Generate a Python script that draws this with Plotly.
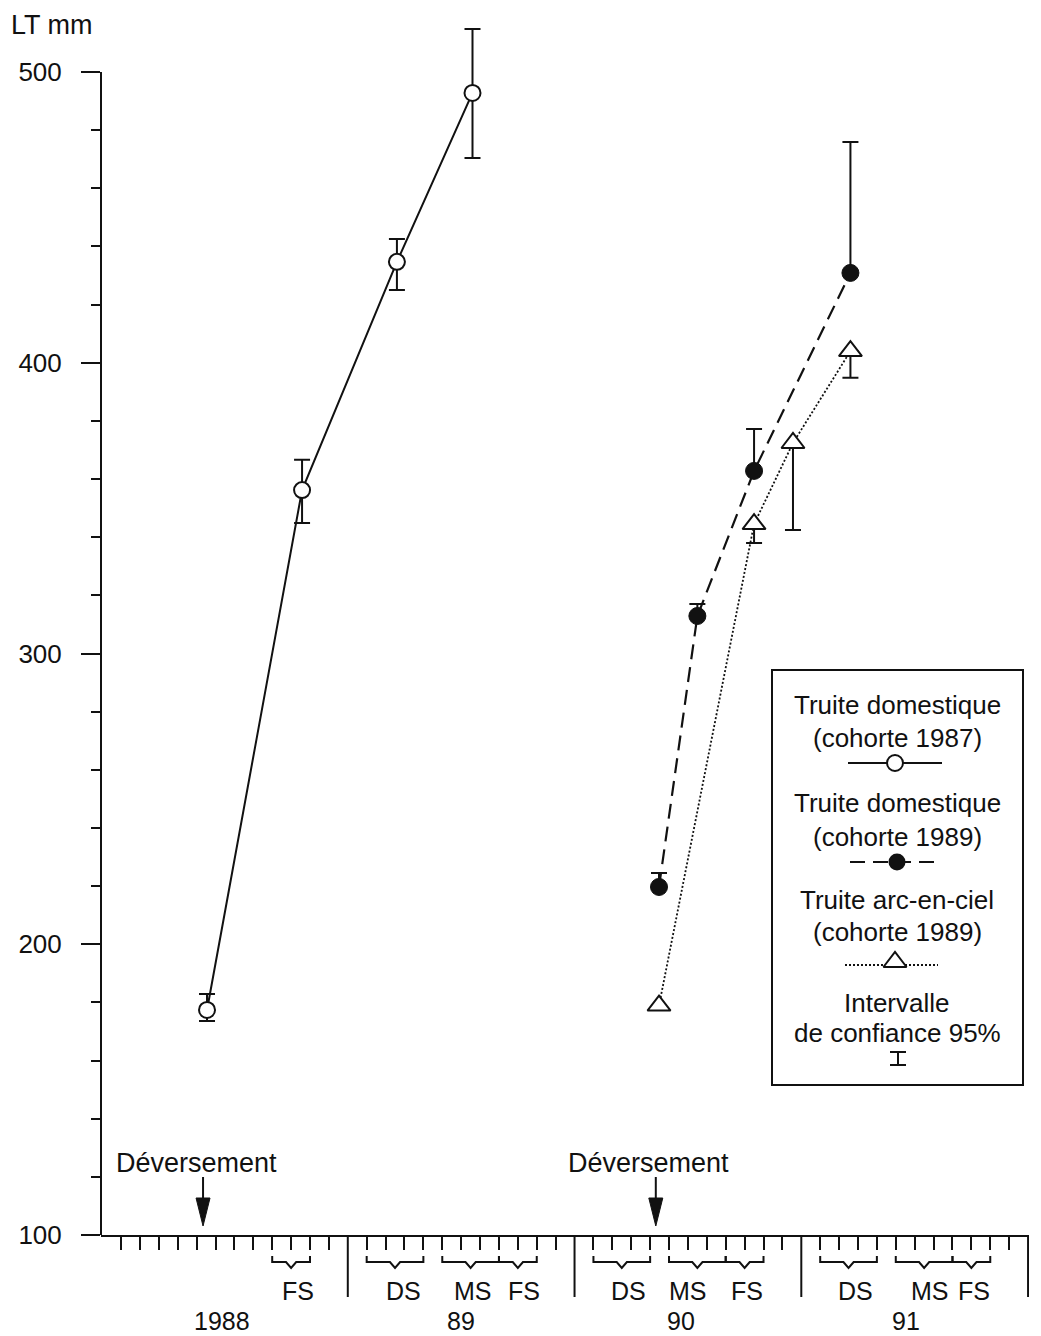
import plotly.graph_objects as go

# ---------------- data ----------------
# x positions in months since January 1988
s1_x = [4.55, 9.58, 14.6, 18.6]
s1_y = [177.4, 356.2, 434.7, 492.8]
s1_err_up = [5.5, 10.4, 7.9, 22.0]
s1_err_down = [3.8, 11.3, 9.7, 22.4]

s2_x = [28.47, 30.5, 33.5, 38.6]
s2_y = [219.7, 312.9, 362.8, 430.9]
s2_err_up = [4.8, 4.1, 14.4, 45.0]
s2_err_down = [0, 0, 0, 0]

s3_x = [28.47, 33.5, 35.56, 38.6]
s3_y = [178.9, 344.5, 372.4, 404.0]
s3_err_up = [0, 0, 0, 0]
s3_err_down = [0, 6.5, 29.9, 9.2]

spill_x = [4.34, 28.3]
spill_label = "Déversement"

month_ticks = [m for m in range(0, 48) if m % 12 != 0 or m == 0]
year_bounds = [12, 24, 36, 48]
year_labels = ["1988", "89", "90", "91"]
year_label_x = [5.32, 17.99, 29.63, 41.56]

season_labels = ["FS", "DS", "MS", "FS", "DS", "MS", "FS", "DS", "MS", "FS"]
season_start = [8, 13, 17, 20, 25, 29, 32, 37, 41, 44]
season_end = [10, 16, 20, 22, 28, 32, 34, 40, 44, 46]
season_label_x = [9.39, 14.95, 18.6, 21.3, 26.85, 30.03, 33.1, 38.86, 42.8, 45.13]

y_major = [100, 200, 300, 400, 500]
y_minor = [v for v in range(120, 500, 20) if v % 100 != 0]
y_axis_span = [100, 500]

legend_texts = [
    ["Truite domestique", "(cohorte 1987)"],
    ["Truite domestique", "(cohorte 1989)"],
    ["Truite arc-en-ciel", "(cohorte 1989)"],
    ["Intervalle", "de confiance 95%"],
]

# ---------------- layout helpers (page pixel coordinates) ----------------
OFF = 8                       # default body margin of the html page
PAGE_W, PAGE_H = 1041, 1336
FIG_W, FIG_H = PAGE_W - OFF, PAGE_H - OFF
L = 101                       # page x of the y axis
W = 928                       # plot width in px
BOT = 1235                    # page y of the x axis
Y500 = 72                     # page y of the 500 tick
K = (BOT - Y500) / 400.0      # px per mm
T = 14                        # page y of plot top (room for the tall error bar)
H = BOT - T
Y_MAX = 100 + H / K
FONT = "Liberation Sans, Arial, Helvetica, sans-serif"
FS = 26
FS_AX = 25
INK = "#111111"


def px(x):
    return (x - L) / W


def py(y):
    return (BOT - y) / H


def yv(y):
    return 100 + (BOT - y) / K


fig = go.Figure()

# ---------------- data traces ----------------
fig.add_trace(go.Scatter(
    x=s1_x, y=s1_y, mode="lines+markers",
    line=dict(color=INK, width=2),
    marker=dict(symbol="circle", size=16, color="white", line=dict(color=INK, width=2)),
    error_y=dict(type="data", symmetric=False, array=s1_err_up, arrayminus=s1_err_down,
                 width=8, thickness=2, color=INK),
    showlegend=False))

fig.add_trace(go.Scatter(
    x=s2_x, y=s2_y, mode="lines+markers",
    line=dict(color=INK, width=2.2, dash="15px,8px"),
    marker=dict(symbol="circle", size=17, color=INK, line=dict(color=INK, width=1)),
    error_y=dict(type="data", symmetric=False, array=s2_err_up, arrayminus=s2_err_down,
                 width=8, thickness=2, color=INK),
    showlegend=False))

fig.add_trace(go.Scatter(
    x=s3_x, y=s3_y, mode="lines+markers",
    line=dict(color=INK, width=1.8, dash="2px,2px"),
    marker=dict(symbol="triangle-up", size=20, color="white", line=dict(color=INK, width=2)),
    error_y=dict(type="data", symmetric=False, array=s3_err_up, arrayminus=s3_err_down,
                 width=8, thickness=2, color=INK),
    showlegend=False))

# ---------------- legend (drawn on a pixel overlay axis) ----------------
leg_x0, leg_x1, leg_y0, leg_y1 = 772, 1023, 670, 1085
leg_cx = 897
text_rows = [(705, 738), (803, 837), (900, 932), (1003, 1033)]
sample_y = [763, 862, 962]

fig.add_trace(go.Scatter(x=[848, 942], y=[sample_y[0]] * 2, mode="lines", xaxis="x2", yaxis="y2",
                         line=dict(color=INK, width=2), showlegend=False, hoverinfo="skip"))
fig.add_trace(go.Scatter(x=[895], y=[sample_y[0]], mode="markers", xaxis="x2", yaxis="y2",
                         marker=dict(symbol="circle", size=16, color="white", line=dict(color=INK, width=2)),
                         showlegend=False, hoverinfo="skip"))
fig.add_trace(go.Scatter(x=[850, 942], y=[sample_y[1]] * 2, mode="lines", xaxis="x2", yaxis="y2",
                         line=dict(color=INK, width=2.2, dash="15px,8px"), showlegend=False, hoverinfo="skip"))
fig.add_trace(go.Scatter(x=[897], y=[sample_y[1]], mode="markers", xaxis="x2", yaxis="y2",
                         marker=dict(symbol="circle", size=17, color=INK),
                         showlegend=False, hoverinfo="skip"))
fig.add_trace(go.Scatter(x=[845, 938], y=[sample_y[2] + 3] * 2, mode="lines", xaxis="x2", yaxis="y2",
                         line=dict(color=INK, width=1.8, dash="2px,2px"), showlegend=False, hoverinfo="skip"))
fig.add_trace(go.Scatter(x=[895], y=[sample_y[2]], mode="markers", xaxis="x2", yaxis="y2",
                         marker=dict(symbol="triangle-up", size=20, color="white", line=dict(color=INK, width=2)),
                         showlegend=False, hoverinfo="skip"))

shapes = []
annotations = []

# y axis line only from 100 to 500
shapes.append(dict(type="line", xref="paper", yref="y", x0=0, x1=0, y0=y_axis_span[0], y1=y_axis_span[1],
                   line=dict(color=INK, width=2)))

shapes.append(dict(type="rect", xref="x2", yref="y2", x0=leg_x0, x1=leg_x1, y0=leg_y0, y1=leg_y1,
                   line=dict(color=INK, width=2), layer="below"))
shapes.append(dict(type="line", xref="x2", yref="y2", x0=898, x1=898, y0=1052, y1=1065,
                   line=dict(color=INK, width=2)))
shapes.append(dict(type="line", xref="x2", yref="y2", x0=890, x1=906, y0=1052, y1=1052,
                   line=dict(color=INK, width=2)))
shapes.append(dict(type="line", xref="x2", yref="y2", x0=890, x1=906, y0=1065, y1=1065,
                   line=dict(color=INK, width=2)))

for (l1, l2), (y1, y2) in zip(legend_texts, text_rows):
    for txt, yy in ((l1, y1), (l2, y2)):
        annotations.append(dict(text=txt, xref="x2", yref="y2", x=leg_cx, y=yy, showarrow=False,
                                xanchor="center", yanchor="middle",
                                font=dict(family=FONT, size=FS, color=INK)))

# ---------------- spill arrows ----------------
for sx in spill_x:
    shapes.append(dict(type="line", xref="x", yref="y", x0=sx, x1=sx, y0=yv(1177), y1=yv(1200),
                       line=dict(color=INK, width=2)))
    shapes.append(dict(type="path", xref="x", yref="y",
                       path=f"M {sx - 0.37},{yv(1198)} L {sx + 0.37},{yv(1198)} L {sx},{yv(1226)} Z",
                       fillcolor=INK, line=dict(color=INK, width=1)))
    annotations.append(dict(text=spill_label, xref="x", yref="y", x=sx, y=yv(1163), xshift=-7,
                            showarrow=False, xanchor="center", yanchor="middle",
                            font=dict(family=FONT, size=27, color=INK)))

# ---------------- year separators & season brackets ----------------
for yb in year_bounds:
    shapes.append(dict(type="line", xref="x", yref="paper", x0=yb, x1=yb, y0=py(BOT), y1=py(1297),
                       line=dict(color=INK, width=2)))

b_top, b_bot, b_notch, nw = py(1256), py(1262), py(1268), 0.27
for s0, s1 in zip(season_start, season_end):
    c = (s0 + s1) / 2
    path = (f"M {s0},{b_top} L {s0},{b_bot} L {c - nw},{b_bot} L {c},{b_notch} "
            f"L {c + nw},{b_bot} L {s1},{b_bot} L {s1},{b_top}")
    shapes.append(dict(type="path", xref="x", yref="paper", path=path,
                       line=dict(color=INK, width=2)))

for lab, lx in zip(season_labels, season_label_x):
    annotations.append(dict(text=lab, xref="x", yref="paper", x=lx, y=py(1291), showarrow=False,
                            xanchor="center", yanchor="middle",
                            font=dict(family=FONT, size=FS_AX, color=INK)))

for lab, lx in zip(year_labels, year_label_x):
    annotations.append(dict(text=lab, xref="x", yref="paper", x=lx, y=py(1321), showarrow=False,
                            xanchor="center", yanchor="middle",
                            font=dict(family=FONT, size=FS_AX, color=INK)))

annotations.append(dict(text="LT mm", xref="paper", yref="paper", x=px(9), y=py(25), showarrow=False,
                        xanchor="left", yanchor="middle", font=dict(family=FONT, size=27, color=INK)))

fig.update_layout(
    width=FIG_W, height=FIG_H,
    margin=dict(l=L - OFF, r=FIG_W - (L - OFF) - W, t=T - OFF, b=FIG_H - (BOT - OFF), pad=0),
    paper_bgcolor="white", plot_bgcolor="white",
    font=dict(family=FONT, size=FS, color=INK),
    showlegend=False,
    xaxis=dict(range=[-1.06, 48.05], showgrid=False, zeroline=False, showline=True,
               linecolor=INK, linewidth=2, ticks="outside", ticklen=13, tickwidth=2, tickcolor=INK,
               tickmode="array", tickvals=month_ticks, showticklabels=False, fixedrange=True),
    yaxis=dict(range=[100, Y_MAX], showgrid=False, zeroline=False, showline=False,
               ticks="outside", ticklen=19, tickwidth=2, tickcolor=INK,
               tickmode="array", tickvals=y_major, ticktext=[str(v) for v in y_major],
               tickfont=dict(family=FONT, size=FS, color=INK), ticklabelstandoff=14,
               minor=dict(tickmode="array", tickvals=y_minor, ticks="outside", ticklen=9, tickwidth=2,
                          tickcolor=INK, showgrid=False),
               fixedrange=True),
    xaxis2=dict(overlaying="x", anchor="y2", range=[L, L + W], visible=False, fixedrange=True),
    yaxis2=dict(overlaying="y", anchor="x2", range=[BOT, T], visible=False, fixedrange=True),
    shapes=shapes,
    annotations=annotations,
)

fig.write_html("out.html")
